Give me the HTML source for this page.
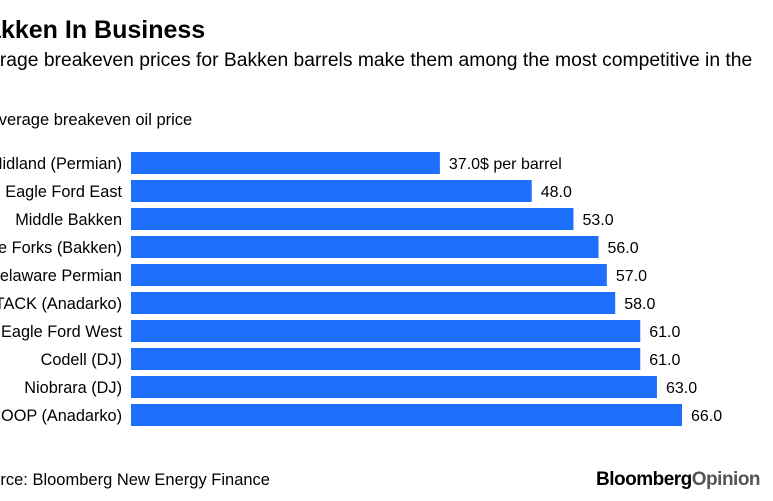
<!DOCTYPE html>
<html><head><meta charset="utf-8"><style>
html,body{margin:0;padding:0;background:#fff;overflow:hidden}
body{width:773px;height:501px;position:relative;font-family:"Liberation Sans",sans-serif;color:#000}
.t{position:absolute;white-space:nowrap}
</style></head><body>
<div class="t" style="left:-31px;top:16px;font-size:25px;font-weight:bold">Bakken In Business</div>
<div class="t" style="left:-33px;top:50px;font-size:19.3px">Average breakeven prices for Bakken barrels make them among the most competitive in the</div>
<div class="t" style="left:-40px;top:74px;font-size:19.3px">U.S.</div>
<div class="t" style="left:-12px;top:111px;font-size:16.5px">Average breakeven oil price</div>
<svg id="chart" width="773" height="501" style="position:absolute;left:0;top:0"></svg>
<div class="t" style="left:-29px;top:471px;font-size:16.5px">Source: Bloomberg New Energy Finance</div>
<div class="t" style="left:596px;top:469px;font-size:19px;font-weight:bold;letter-spacing:-0.5px">Bloomberg<span style="color:#555">Opinion</span></div>
<script>
const categories=["Midland (Permian)","Eagle Ford East","Middle Bakken","Three Forks (Bakken)","Delaware Permian","STACK (Anadarko)","Eagle Ford West","Codell (DJ)","Niobrara (DJ)","SCOOP (Anadarko)"];
const values=[37,48,53,56,57,58,61,61,63,66];
const valueLabels=["37.0$ per barrel","48.0","53.0","56.0","57.0","58.0","61.0","61.0","63.0","66.0"];
const svg=document.getElementById('chart');
const NS="http://www.w3.org/2000/svg";
const x0=131,scale=(682-131)/66;
function xPos(v){return x0+v*scale;}
function yPos(i){return 152+i*28;}
categories.forEach((c,i)=>{
  const r=document.createElementNS(NS,'rect');
  r.setAttribute('x',x0);r.setAttribute('y',yPos(i));
  r.setAttribute('width',xPos(values[i])-x0);r.setAttribute('height',22);
  r.setAttribute('fill','#1f6fff');
  
  
  svg.appendChild(r);
  const l=document.createElementNS(NS,'text');
  l.setAttribute('x',122);l.setAttribute('y',yPos(i)+17);
  l.setAttribute('text-anchor','end');l.setAttribute('font-size','16.3');
  l.setAttribute('font-family','Liberation Sans, sans-serif');
  l.textContent=c;
  
  
  svg.appendChild(l);
  const v=document.createElementNS(NS,'text');
  v.setAttribute('x',xPos(values[i])+9);v.setAttribute('y',yPos(i)+17);
  v.setAttribute('font-size','16');
  v.setAttribute('font-family','Liberation Sans, sans-serif');
  v.textContent=valueLabels[i];
  
  
  svg.appendChild(v);
});
</script>
</body></html>
